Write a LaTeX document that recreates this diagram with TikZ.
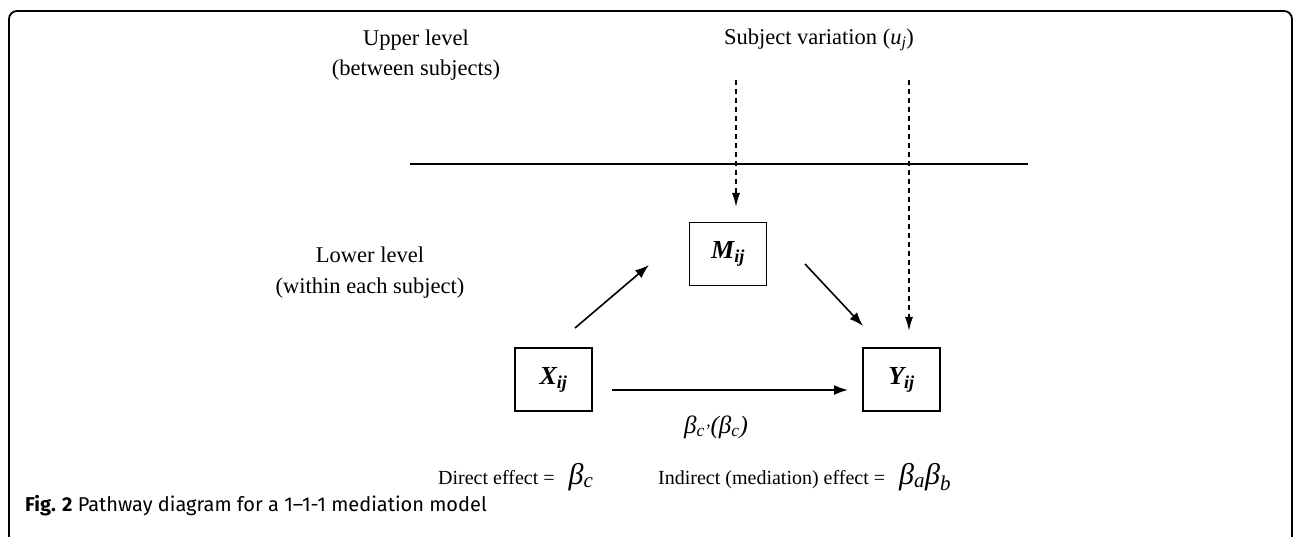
\documentclass[tikz,border=0pt]{standalone}
\usepackage{fontspec}
\setmainfont{Liberation Serif}
\newfontfamily\capfont{Fira Sans}
\usetikzlibrary{arrows.meta}
\begin{document}
\begin{tikzpicture}[x=1pt,y=-1pt,
  box/.style={draw, line width=1.6pt, minimum width=77pt, minimum height=63pt, inner sep=0pt, font=\fontsize{26}{30}\selectfont\bfseries\itshape},
  lab/.style={font=\fontsize{22.5}{30.5}\selectfont, align=center, inner sep=0pt},
  eff/.style={font=\fontsize{20}{24}\selectfont, inner sep=0pt, anchor=base west},
  arr/.style={line width=1.6pt, -{Latex[length=14pt,width=10pt]}},
  darr/.style={line width=1.5pt, dash pattern=on 5.5pt off 3.5pt, -{Latex[length=14pt,width=8pt]}}
]
\path[use as bounding box] (0,0) rectangle (1293,537);
% frame (bottom edge lies outside the picture)
\coordinate (f1) at (9,537);
\coordinate (f2) at (9,11);
\coordinate (f3) at (1292,11);
\coordinate (f4) at (1292,537);
\draw[line width=1.8pt, rounded corners=8pt] (f1) -- (f2) -- (f3) -- (f4);
% boxes
\node[box] (M) at (728,254) {M\textsubscript{ij}};
\node[box] (X) at (553.5,379.5) {X\textsubscript{ij}};
\node[box] (Y) at (901.5,379.5) {Y\textsubscript{ij}};
% level line
\coordinate (L1) at (410,164);
\coordinate (L2) at (1028,164);
\draw[line width=2pt] (L1) -- (L2);
% dashed arrows
\coordinate (d1s) at (736,80);
\coordinate (d1e) at (736,207);
\coordinate (d2s) at (909,80);
\coordinate (d2e) at (909,331);
\draw[darr] (d1s) -- (d1e);
\draw[darr] (d2s) -- (d2e);
% solid arrows
\coordinate (a1s) at (575,328);
\coordinate (a1e) at (649,265);
\coordinate (a2s) at (805,264);
\coordinate (a2e) at (863,326);
\coordinate (a3s) at (612,390);
\coordinate (a3e) at (848,390);
\draw[arr] (a1s) -- (a1e);
\draw[arr] (a2s) -- (a2e);
\draw[arr] (a3s) -- (a3e);
% labels
\node[lab] (up) at (416,55) {Upper level\\(between subjects)};
\node[lab] (sv) at (819,40) {Subject variation ({\itshape u\textsubscript{j}})};
\node[lab] (low) at (370,272.5) {Lower level\\(within each subject)};
\node[font=\fontsize{25}{28}\selectfont\itshape, inner sep=0pt] (bc) at (716,427) {β\textsubscript{c'}(β\textsubscript{c})};
\node[eff] (de) at (438,484) {Direct effect =\hspace{14pt}{\fontsize{30}{32}\selectfont\itshape β\textsubscript{c}}};
\node[eff] (ie) at (658,484) {Indirect (mediation) effect =\hspace{14pt}{\fontsize{30}{32}\selectfont\itshape β\textsubscript{a}β\textsubscript{b}}};
\node[font=\fontsize{20}{23}\capfont, inner sep=0pt, anchor=base west] (cap) at (25,511) {\textbf{Fig. 2} Pathway diagram for a 1–1-1 mediation model};
\end{tikzpicture}
\end{document}
